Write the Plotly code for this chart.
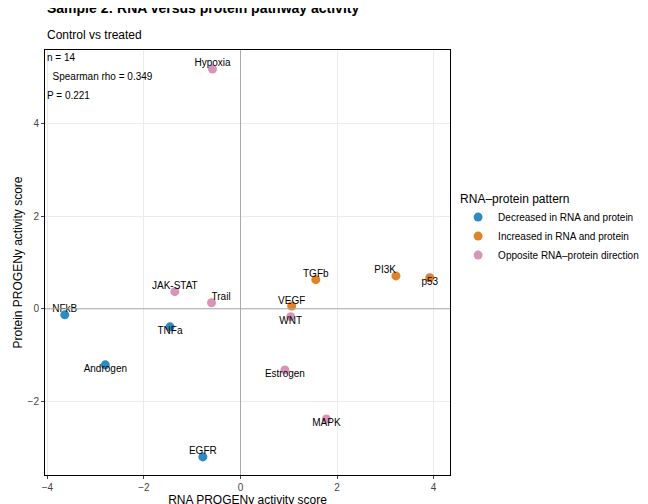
import plotly.graph_objects as go

pathways = ["Hypoxia","NFkB","JAK-STAT","Trail","TNFa","Androgen","EGFR","VEGF","WNT","TGFb","PI3K","p53","Estrogen","MAPK"]
rna = [-0.58,-3.64,-1.36,-0.6,-1.46,-2.8,-0.78,1.06,1.04,1.56,3.22,3.92,0.92,1.78]
protein = [5.18,-0.13,0.37,0.13,-0.39,-1.21,-3.2,0.06,-0.17,0.63,0.71,0.67,-1.32,-2.38]
pattern = ["O","D","O","O","D","D","D","I","O","I","I","I","O","O"]
label_pos = ["top center","top center","top center","top right","bottom center","bottom center","top center","top center","bottom center","top center","top left","bottom center","bottom center","bottom center"]

groups = [("D","Decreased in RNA and protein","#2E8BC0"),
          ("I","Increased in RNA and protein","#E0822A"),
          ("O","Opposite RNA\u2013protein direction","#D895B8")]

fig = go.Figure()
for code, name, col in groups:
    idx = [i for i,p in enumerate(pattern) if p == code]
    fig.add_trace(go.Scatter(x=[rna[i] for i in idx], y=[protein[i] for i in idx],
        mode="markers", name=name, marker=dict(size=9, color=col)))
fig.add_trace(go.Scatter(x=rna, y=protein, mode="text", text=pathways,
    textposition=label_pos, textfont=dict(size=10, color="black"), showlegend=False, hoverinfo="skip"))

fig.add_hline(y=0, line=dict(color="#aaaaaa", width=1))
fig.add_vline(x=0, line=dict(color="#aaaaaa", width=1))

for i, t in enumerate(["n = 14", "  Spearman rho = 0.349", "P = 0.221"]):
    fig.add_annotation(x=0, y=1 - i*0.045, xref="paper", yref="paper", text=t, showarrow=False,
                       xanchor="left", yanchor="top", font=dict(size=10, color="black"))

fig.add_annotation(x=37, y=504-4, xref="x domain", yref="paper", text="", showarrow=False)
fig.add_annotation(text="<b>Sample 2: RNA versus protein pathway activity</b>", xref="paper", yref="paper",
                   x=-0.0, y=1.075, xanchor="left", yanchor="bottom", showarrow=False, font=dict(size=14))
fig.add_annotation(text="Control vs treated", xref="paper", yref="paper",
                   x=-0.0, y=1.015, xanchor="left", yanchor="bottom", showarrow=False, font=dict(size=12))

fig.update_layout(
    width=648, height=504, plot_bgcolor="white", paper_bgcolor="white",
    font=dict(family="Liberation Sans, Arial", color="black"),
    margin=dict(l=37, r=193, t=42, b=37),
    legend=dict(title=dict(text="RNA\u2013protein pattern", font=dict(size=12)), x=1.02, y=0.58, yanchor="middle",
                font=dict(size=10)),
    xaxis=dict(title=dict(text="RNA PROGENy activity score", font=dict(size=12), standoff=2), range=[-4.05, 4.34],
               automargin=False,
               tickvals=[-4,-2,0,2,4], showgrid=True, gridcolor="#ebebeb", zeroline=False,
               showline=True, linecolor="black", mirror=True, ticks="outside", ticklen=3,
               tickfont=dict(size=10, color="#444")),
    yaxis=dict(title=dict(text="Protein PROGENy activity score", font=dict(size=12), standoff=2), range=[-3.59, 5.59],
               automargin=False,
               tickvals=[-2,0,2,4], showgrid=True, gridcolor="#ebebeb", zeroline=False,
               showline=True, linecolor="black", mirror=True, ticks="outside", ticklen=3,
               tickfont=dict(size=10, color="#444")),
)
fig.layout.annotations = fig.layout.annotations[:3] + fig.layout.annotations[4:]
fig.write_html("out.html")
